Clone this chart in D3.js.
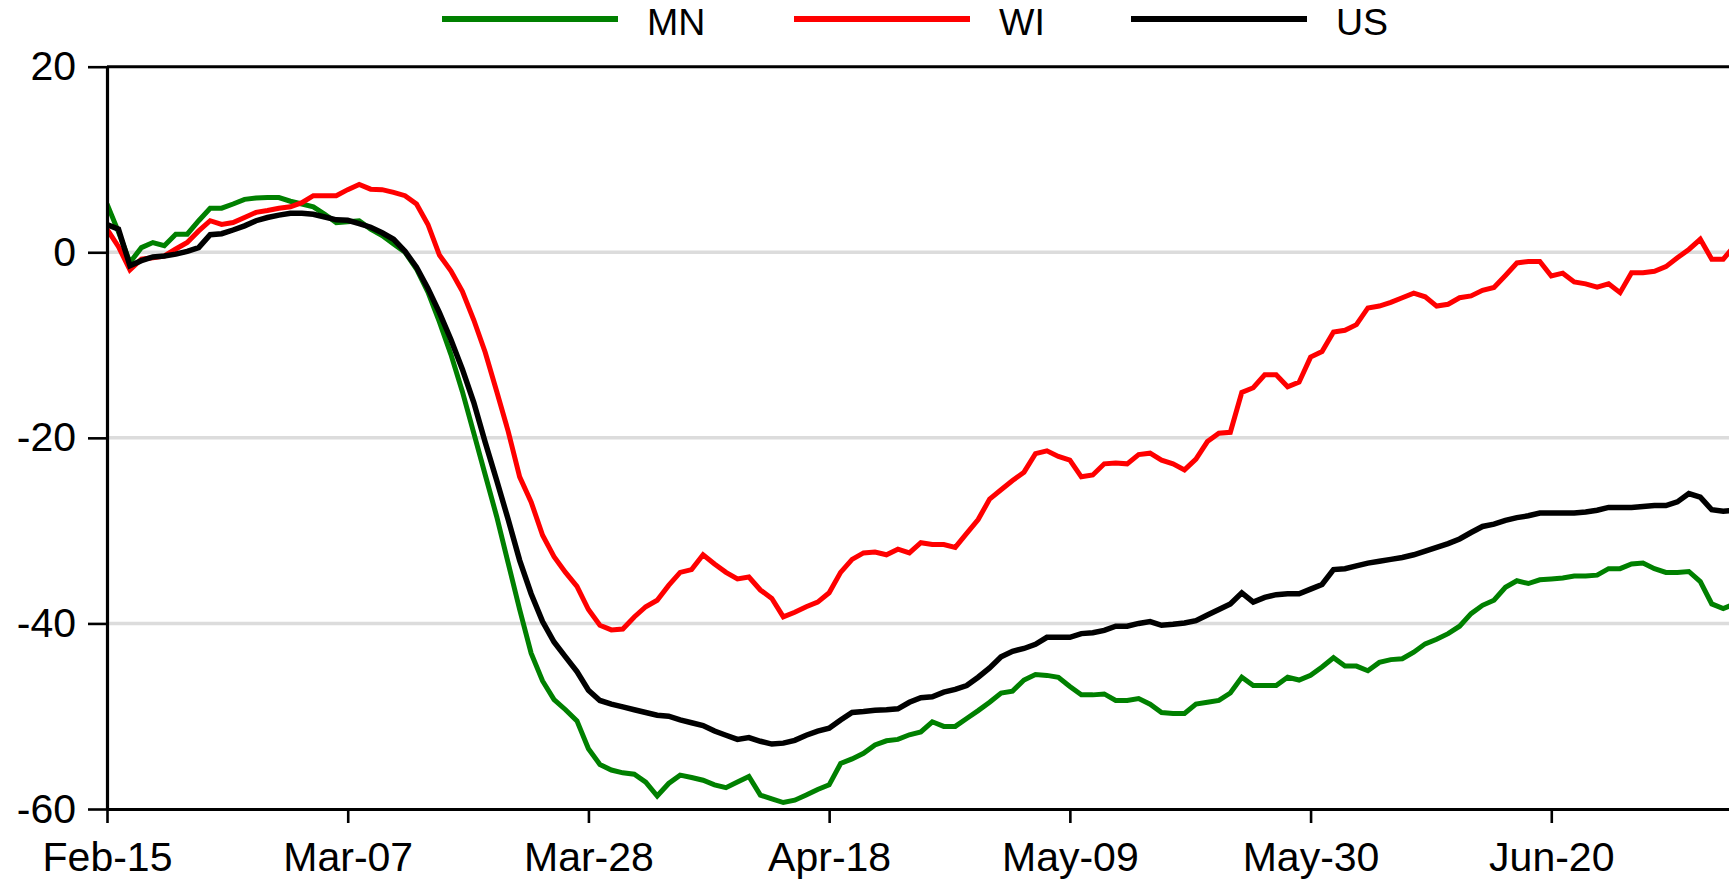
<!DOCTYPE html>
<html>
<head>
<meta charset="utf-8">
<script src="https://cdn.jsdelivr.net/npm/d3@7"></script>
<style>
  html, body { margin: 0; padding: 0; background: #ffffff; }
  svg { display: block; }
  text { font-family: Arial, "Liberation Sans", sans-serif; fill: #000; }
</style>
</head>
<body>
<svg id="chart" width="1729" height="881"></svg>
<script>
// ---------------- DATA ----------------
const startDate = "2020-02-15";          // first daily observation
const seriesNames = ["MN", "WI", "US"];
const seriesColors = ["#008000", "#ff0000", "#000000"];

const MN = [5.2,2.2,-1.1,0.5,1.05,0.7,1.95,1.95,3.4,4.75,4.75,5.2,5.7,5.85,5.9,5.9,5.5,5.2,4.9,4.1,
  3.2,3.3,3.4,2.5,1.8,0.9,0.0,-1.8,-4.3,-7.5,-11.0,-15.0,-19.5,-24.0,-28.5,-33.5,-38.5,-43.2,-46.2,-48.2,
  -49.3,-50.5,-53.5,-55.2,-55.8,-56.1,-56.25,-57.1,-58.6,-57.25,-56.35,-56.6,-56.9,-57.4,-57.7,-57.1,-56.5,-58.5,-58.9,-59.3,
  -59.05,-58.5,-57.9,-57.4,-55.1,-54.6,-54.0,-53.1,-52.65,-52.5,-52.0,-51.7,-50.6,-51.1,-51.1,-50.25,-49.4,-48.5,-47.5,-47.3,
  -46.1,-45.5,-45.6,-45.8,-46.8,-47.7,-47.7,-47.6,-48.3,-48.3,-48.1,-48.7,-49.6,-49.7,-49.7,-48.7,-48.5,-48.3,-47.5,-45.8,
  -46.7,-46.7,-46.7,-45.8,-46.1,-45.6,-44.7,-43.7,-44.6,-44.6,-45.1,-44.2,-43.9,-43.8,-43.1,-42.2,-41.7,-41.1,-40.3,-38.95,
  -38.05,-37.5,-36.1,-35.4,-35.7,-35.3,-35.2,-35.1,-34.9,-34.9,-34.8,-34.1,-34.1,-33.6,-33.5,-34.1,-34.5,-34.5,-34.4,-35.5,
  -37.9,-38.4,-37.9];

const WI = [2.5,0.6,-1.9,-0.75,-0.6,-0.4,0.35,1.05,2.3,3.4,3.0,3.2,3.75,4.3,4.5,4.75,4.9,5.35,6.1,6.1,
  6.1,6.75,7.3,6.8,6.75,6.45,6.1,5.2,3.0,-0.3,-2.0,-4.2,-7.3,-10.8,-15.0,-19.3,-24.2,-26.9,-30.5,-32.8,
  -34.5,-36.0,-38.5,-40.2,-40.7,-40.6,-39.3,-38.2,-37.5,-35.9,-34.5,-34.2,-32.6,-33.6,-34.5,-35.2,-35.0,-36.4,-37.3,-39.3,
  -38.8,-38.2,-37.7,-36.7,-34.5,-33.1,-32.4,-32.3,-32.6,-32.0,-32.4,-31.3,-31.5,-31.5,-31.8,-30.3,-28.8,-26.6,-25.6,-24.6,
  -23.7,-21.7,-21.4,-22.0,-22.4,-24.2,-24.0,-22.8,-22.7,-22.8,-21.8,-21.65,-22.4,-22.8,-23.45,-22.3,-20.4,-19.5,-19.4,-15.1,
  -14.6,-13.2,-13.2,-14.5,-14.0,-11.3,-10.7,-8.6,-8.4,-7.8,-6.0,-5.8,-5.4,-4.9,-4.4,-4.8,-5.8,-5.6,-4.9,-4.7,
  -4.1,-3.8,-2.5,-1.15,-1.0,-1.0,-2.55,-2.25,-3.2,-3.4,-3.75,-3.4,-4.35,-2.2,-2.2,-2.05,-1.55,-0.6,0.3,1.4,
  -0.75,-0.75,0.7];

const US = [3.0,2.5,-1.45,-0.9,-0.5,-0.4,-0.2,0.1,0.5,1.9,2.0,2.4,2.85,3.4,3.75,4.0,4.2,4.2,4.1,3.8,
  3.5,3.45,3.1,2.7,2.1,1.4,0.1,-1.6,-3.9,-6.5,-9.4,-12.6,-16.2,-20.5,-24.6,-28.8,-33.2,-36.8,-39.8,-42.0,
  -43.6,-45.2,-47.2,-48.3,-48.7,-49.0,-49.3,-49.6,-49.9,-50.0,-50.4,-50.7,-51.0,-51.6,-52.05,-52.5,-52.3,-52.7,-53.0,-52.9,
  -52.6,-52.05,-51.6,-51.3,-50.4,-49.6,-49.5,-49.35,-49.3,-49.2,-48.5,-48.0,-47.9,-47.4,-47.1,-46.7,-45.8,-44.8,-43.6,-43.0,
  -42.7,-42.25,-41.5,-41.5,-41.5,-41.1,-41.0,-40.75,-40.3,-40.3,-40.0,-39.8,-40.2,-40.1,-39.95,-39.7,-39.1,-38.5,-37.9,-36.7,
  -37.7,-37.2,-36.9,-36.8,-36.8,-36.3,-35.8,-34.2,-34.1,-33.8,-33.5,-33.3,-33.1,-32.9,-32.6,-32.2,-31.8,-31.4,-30.9,-30.2,
  -29.55,-29.3,-28.9,-28.6,-28.4,-28.1,-28.1,-28.1,-28.1,-28.0,-27.8,-27.5,-27.5,-27.5,-27.4,-27.3,-27.3,-26.9,-26.0,-26.4,
  -27.75,-27.9,-27.8];

const xTickLabels = ["Feb-15","Mar-07","Mar-28","Apr-18","May-09","May-30","Jun-20"];
const yTicks = [-60, -40, -20, 0, 20];
const gridValues = [-40, -20, 0];

// ---------------- LAYOUT ----------------
const W = 1729, H = 881;
const plot = { left: 107, top: 66.7, bottom: 809, right: 1792 };

const svg = d3.select("#chart");
svg.append("rect").attr("width", W).attr("height", H).attr("fill", "#fff");

const day = 864e5;
const t0 = new Date(startDate + "T00:00:00Z");
const dateAt = i => new Date(t0.getTime() + i * day);
const tickDates = xTickLabels.map((_, i) => dateAt(i * 21));

const x = d3.scaleUtc()
  .domain([t0, dateAt(147)])
  .range([plot.left, plot.right]);
const y = d3.scaleLinear().domain([-60, 20]).range([plot.bottom, plot.top]);

// clip
svg.append("defs").append("clipPath").attr("id", "clip")
  .append("rect").attr("x", plot.left).attr("y", plot.top - 10)
  .attr("width", plot.right - plot.left).attr("height", plot.bottom - plot.top + 10);

// gridlines
svg.append("g").selectAll("line").data(gridValues).join("line")
  .attr("x1", plot.left).attr("x2", W + 10)
  .attr("y1", d => y(d)).attr("y2", d => y(d))
  .attr("stroke", "#dcdcdc").attr("stroke-width", 3.5);

// series
const seriesData = [MN, WI, US];
const line = d3.line().x((d, i) => x(dateAt(i))).y(d => y(d));
const gLines = svg.append("g").attr("clip-path", "url(#clip)");
seriesData.forEach((vals, k) => {
  gLines.append("path")
    .datum(vals)
    .attr("d", line)
    .attr("fill", "none")
    .attr("stroke", seriesColors[k])
    .attr("stroke-width", k === 2 ? 5.5 : 5)
    .attr("stroke-linejoin", "miter")
    .attr("stroke-miterlimit", 2);
});

// top frame line
svg.append("line")
  .attr("x1", plot.left).attr("x2", W + 10)
  .attr("y1", y(20)).attr("y2", y(20))
  .attr("stroke", "#000").attr("stroke-width", 3);

// y axis
const yAxis = d3.axisLeft(y).tickValues(yTicks).tickSize(19).tickSizeOuter(0).tickPadding(12)
  .tickFormat(d3.format("d"));
const gy = svg.append("g").attr("transform", `translate(${plot.left},0)`).call(yAxis);
gy.select(".domain").attr("stroke", "#000").attr("stroke-width", 3.2);
gy.selectAll(".tick line").attr("stroke", "#000").attr("stroke-width", 2.6);
gy.selectAll(".tick text").attr("font-size", 41).attr("font-family", "Arial, 'Liberation Sans', sans-serif")
  .text(d => d3.format("d")(d).replace("−", "-"));

// x axis
const xAxis = d3.axisBottom(x).tickValues(tickDates).tickSize(14).tickSizeOuter(0).tickPadding(19)
  .tickFormat((d, i) => xTickLabels[i]);
const gx = svg.append("g").attr("transform", `translate(0,${plot.bottom})`).call(xAxis);
gx.select(".domain").attr("stroke", "#000").attr("stroke-width", 3.2);
gx.selectAll(".tick line").attr("stroke", "#000").attr("stroke-width", 2.6);
gx.selectAll(".tick text").attr("font-size", 41).attr("font-family", "Arial, 'Liberation Sans', sans-serif");

// legend
const legendX = [442, 794, 1131];
const lg = svg.append("g");
seriesNames.forEach((name, k) => {
  lg.append("line")
    .attr("x1", legendX[k]).attr("x2", legendX[k] + 176)
    .attr("y1", 19).attr("y2", 19)
    .attr("stroke", seriesColors[k]).attr("stroke-width", 6);
  lg.append("text")
    .attr("x", legendX[k] + 205).attr("y", 35)
    .attr("font-size", 37.5)
    .text(name);
});
</script>
</body>
</html>
